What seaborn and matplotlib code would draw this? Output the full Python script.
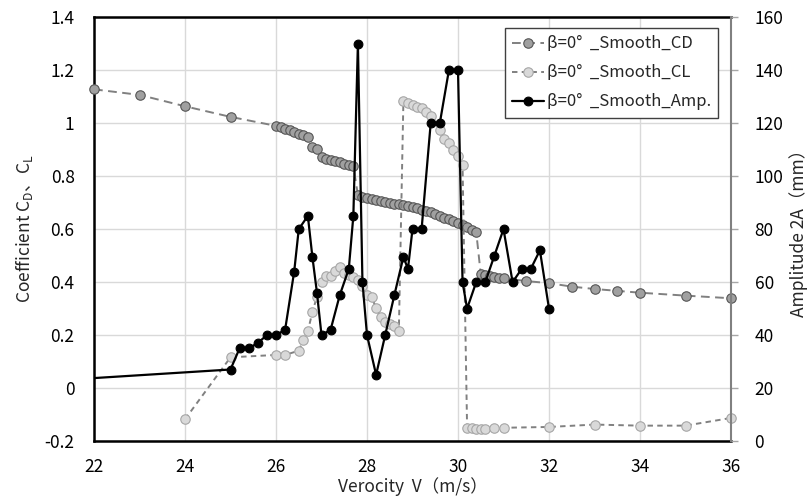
import matplotlib
matplotlib.use("Agg")
import matplotlib.pyplot as plt
import seaborn as sns
import pandas as pd
from matplotlib.lines import Line2D

# ---------------- data ----------------
cd_v = [22, 23, 24, 25,
        26.0, 26.1, 26.2, 26.3, 26.4, 26.5, 26.6, 26.7, 26.8, 26.9,
        27.0, 27.1, 27.2, 27.3, 27.4, 27.5, 27.6, 27.7,
        27.8, 27.9, 28.0, 28.1, 28.2, 28.3, 28.4, 28.5, 28.6, 28.7,
        28.8, 28.9, 29.0, 29.1, 29.2, 29.3, 29.4, 29.5, 29.6, 29.7,
        29.8, 29.9, 30.0, 30.1, 30.2, 30.3, 30.4,
        30.5, 30.6, 30.7, 30.8, 30.9, 31.0,
        31.5, 32, 32.5, 33, 33.5, 34, 35, 36]
cd_val = [1.128, 1.107, 1.064, 1.024,
          0.990, 0.985, 0.980, 0.975, 0.968, 0.960, 0.954, 0.948, 0.911, 0.902,
          0.874, 0.865, 0.861, 0.857, 0.852, 0.847, 0.842, 0.838,
          0.729, 0.723, 0.719, 0.715, 0.710, 0.706, 0.703, 0.700, 0.696, 0.694,
          0.691, 0.687, 0.684, 0.679, 0.673, 0.669, 0.664, 0.657, 0.651, 0.643,
          0.637, 0.631, 0.624, 0.616, 0.607, 0.597, 0.590,
          0.430, 0.427, 0.423, 0.419, 0.417, 0.414,
          0.404, 0.396, 0.383, 0.374, 0.367, 0.360, 0.349, 0.339]

cl_v = [24, 25, 26, 26.2, 26.5, 26.6, 26.7, 26.8, 26.9,
        27.0, 27.1, 27.2, 27.3, 27.4, 27.5, 27.6, 27.7, 27.8, 27.9,
        28.0, 28.1, 28.2, 28.3, 28.4, 28.5, 28.6, 28.7,
        28.8, 28.9, 29.0, 29.1, 29.2, 29.3, 29.4, 29.6, 29.7, 29.8,
        29.9, 30.0, 30.1,
        30.2, 30.3, 30.4, 30.5, 30.6, 30.8, 31.0, 32, 33, 34, 35, 36]
cl_val = [-0.118, 0.116, 0.125, 0.125, 0.141, 0.181, 0.215, 0.287, 0.345,
          0.399, 0.423, 0.423, 0.441, 0.457, 0.436, 0.428, 0.420, 0.408, 0.385,
          0.352, 0.343, 0.303, 0.267, 0.248, 0.240, 0.234, 0.215,
          1.085, 1.078, 1.069, 1.062, 1.056, 1.044, 1.027, 0.974, 0.939, 0.927,
          0.899, 0.876, 0.842,
          -0.150, -0.152, -0.153, -0.155, -0.155, -0.152, -0.150, -0.147,
          -0.138, -0.142, -0.142, -0.113]

amp_v = [0, 25, 25.2, 25.4, 25.6, 25.8, 26.0, 26.2, 26.4, 26.5, 26.7, 26.8,
         26.9, 27.0, 27.2, 27.4, 27.6, 27.7, 27.8, 27.9, 28.0, 28.2, 28.4,
         28.6, 28.8, 28.9, 29.0, 29.2, 29.4, 29.6, 29.8, 30.0, 30.1, 30.2,
         30.4, 30.6, 30.8, 31.0, 31.2, 31.4, 31.6, 31.8, 32.0]
amp_val = [0, 27, 35, 35, 37, 40, 40, 42, 64, 80, 85, 69.5,
           56, 40, 42, 55, 65, 85, 150, 60, 40, 25, 40,
           55, 69.5, 65, 80, 80, 120, 120, 140, 140, 60, 50,
           60, 60, 70, 80, 60, 65, 65, 72, 50]

labels = ["β=0°  _Smooth_CD", "β=0°  _Smooth_CL", "β=0°  _Smooth_Amp."]
x_ticks = [22, 24, 26, 28, 30, 32, 34, 36]
left_ticks = [-0.2, 0, 0.2, 0.4, 0.6, 0.8, 1, 1.2, 1.4]
left_tick_labels = ["-0.2", "0", "0.2", "0.4", "0.6", "0.8", "1", "1.2", "1.4"]
right_ticks = [0, 20, 40, 60, 80, 100, 120, 140, 160]

# ---------------- style ----------------
sns.set_theme(style="white")
plt.rcParams['font.family'] = ['Noto Sans CJK JP', 'DejaVu Sans']
plt.rcParams['mathtext.fontset'] = 'custom'
plt.rcParams['mathtext.rm'] = 'Noto Sans CJK JP'

W, H = 810, 504
fig = plt.figure(figsize=(W / 100, H / 100), dpi=100)
L, R, T, B = 94, 731, 17.3, 441
ax = fig.add_axes([L / W, 1 - B / H, (R - L) / W, (B - T) / H])
ax2 = ax.twinx()

cd_style = dict(color="#808080", lw=1.4, linestyle=(0, (4.5, 2.8)), marker="o",
                markersize=6.8, markerfacecolor="#a0a0a0", markeredgecolor="#555555",
                markeredgewidth=0.8)
cl_style = dict(color="#808080", lw=1.4, linestyle=(0, (2.8, 2.2)), marker="o",
                markersize=6.8, markerfacecolor="#d9d9d9", markeredgecolor="#a6a6a6",
                markeredgewidth=0.8)
amp_style = dict(color="black", lw=1.6, linestyle="-", marker="o",
                 markersize=6.3, markerfacecolor="black", markeredgecolor="black",
                 markeredgewidth=0.8)

df_cd = pd.DataFrame({"V": cd_v, "C": cd_val})
df_cl = pd.DataFrame({"V": cl_v, "C": cl_val})
df_amp = pd.DataFrame({"V": amp_v, "A": amp_val})

sns.lineplot(data=df_cd, x="V", y="C", ax=ax, sort=False, estimator=None,
             legend=False, clip_on=False, zorder=3, **cd_style)
sns.lineplot(data=df_cl, x="V", y="C", ax=ax, sort=False, estimator=None,
             legend=False, clip_on=False, zorder=4, **cl_style)
sns.lineplot(data=df_amp, x="V", y="A", ax=ax2, sort=False, estimator=None,
             legend=False, zorder=5, **amp_style)

ax.set_xlim(22, 36)
ax.set_ylim(-0.2, 1.4)
ax2.set_ylim(0, 160)
ax.set_xticks(x_ticks)
ax.set_xticklabels([str(t) for t in x_ticks])
ax.set_yticks(left_ticks)
ax.set_yticklabels(left_tick_labels)
ax2.set_yticks(right_ticks)
ax2.set_yticklabels([str(t) for t in right_ticks])

ax.grid(True, color="#d9d9d9", lw=1.0)
ax.set_axisbelow(True)
ax2.grid(False)

for s in ["left", "bottom", "top"]:
    ax.spines[s].set_visible(True)
    ax.spines[s].set_color("black")
    ax.spines[s].set_linewidth(1.8)
ax.spines["right"].set_visible(False)
for s in ["left", "bottom", "top"]:
    ax2.spines[s].set_visible(False)
ax2.spines["right"].set_visible(True)
ax2.spines["right"].set_color("#808080")
ax2.spines["right"].set_linewidth(1.5)

ax.tick_params(axis="both", length=0, labelsize=12.5, colors="black", pad=14)
ax.tick_params(axis="x", pad=12)
ax2.tick_params(axis="y", right=True, length=5, width=1, color="#a6a6a6",
                direction="out", labelsize=12.5, labelcolor="black", pad=12)

ax.set_xlabel("Verocity  V（m/s）", fontsize=12.5, labelpad=1)
ax.set_ylabel("Coefficient C$_\\mathregular{D}$、C$_\\mathregular{L}$", fontsize=12.5, labelpad=7)
ax2.set_ylabel("Amplitude 2A（mm）", fontsize=12.5, labelpad=4)

handles = [Line2D([], [], **cd_style), Line2D([], [], **cl_style), Line2D([], [], **amp_style)]
leg = ax2.legend(handles, labels, loc="upper right", bbox_to_anchor=(0.98, 0.975),
                 borderaxespad=0, fontsize=12, frameon=True, fancybox=False,
                 framealpha=1, edgecolor="#404040", handlelength=1.9,
                 handletextpad=0.15, labelspacing=0.72, borderpad=0.45)
leg.get_frame().set_linewidth(1.0)

fig.savefig("out.png", dpi=100)
